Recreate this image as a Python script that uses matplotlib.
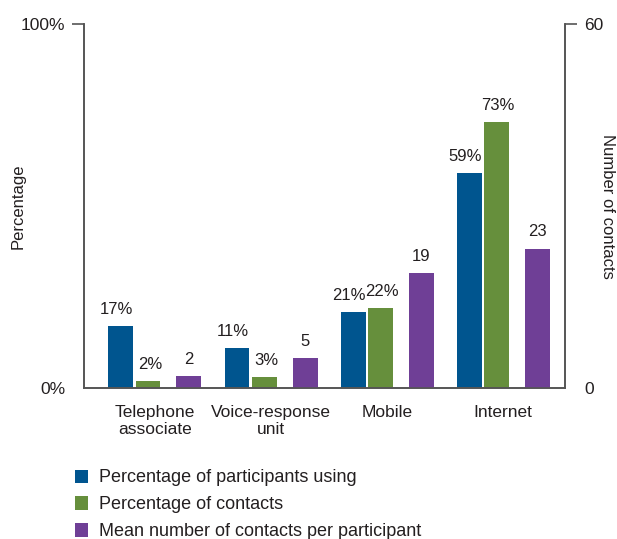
import matplotlib
matplotlib.use("Agg")
import matplotlib.pyplot as plt
import numpy as np

categories = ["Telephone\nassociate", "Voice-response\nunit", "Mobile", "Internet"]
pct_participants = [17, 11, 21, 59]
pct_contacts = [2, 3, 22, 73]
mean_contacts = [2, 5, 19, 23]
series_names = ["Percentage of participants using", "Percentage of contacts",
                "Mean number of contacts per participant"]
colors = ["#00558f", "#668f3c", "#6f3f96"]
left_ticks = [0, 100]
left_ticklabels = ["0%", "100%"]
right_ticks = [0, 60]
right_ticklabels = ["0", "60"]

plt.rcParams["font.family"] = ["Liberation Sans", "DejaVu Sans"]
txt = "#231f20"
spine_c = "#555555"

fig = plt.figure(figsize=(6.17, 5.39), dpi=100)
ax = fig.add_axes([0.136, 0.28, 0.78, 0.6755])
ax2 = ax.twinx()

x = np.arange(len(categories))
w = 0.215
b1 = ax.bar(x - 0.293, pct_participants, w, color=colors[0], label=series_names[0])
b2 = ax.bar(x - 0.06, pct_contacts, w, color=colors[1], label=series_names[1])
b3 = ax2.bar(x + 0.293, mean_contacts, w, color=colors[2], label=series_names[2])

fs = 12.5
for bars, vals, suf, a, dx in [(b1, pct_participants, "%", ax, -3.0),
                               (b2, pct_contacts, "%", ax, 1.5),
                               (b3, mean_contacts, "", ax2, 0)]:
    for r, v in zip(bars, vals):
        a.annotate(f"{v}{suf}", (r.get_x() + r.get_width() / 2, r.get_height()),
                   xytext=(dx, 6.5), textcoords="offset points", ha="center", va="bottom",
                   fontsize=12, color=txt)

ax.set_xlim(-0.612, 3.534)
ax.set_ylim(0, 100)
ax2.set_ylim(0, 60)

ax.set_xticks(x)
ax.set_xticklabels(categories, fontsize=fs, color=txt, linespacing=1.2)
ax.tick_params(axis="x", length=0, pad=12)

ax.set_yticks(left_ticks)
ax.set_yticklabels(left_ticklabels, fontsize=fs, color=txt)
ax.tick_params(axis="y", length=8.5, width=1.2, color=spine_c, pad=5)
ax.yaxis.get_major_ticks()[0].tick1line.set_visible(False)

ax2.set_yticks(right_ticks)
ax2.set_yticklabels(right_ticklabels, fontsize=fs, color=txt)
ax2.tick_params(axis="y", length=8.5, width=1.2, color=spine_c, pad=5)
ax2.yaxis.get_major_ticks()[0].tick2line.set_visible(False)

ax.set_ylabel("Percentage", fontsize=12, color=txt, va="center")
ax.yaxis.set_label_coords(-0.137, 0.5)
ax2.set_ylabel("Number of contacts", fontsize=12, color=txt, rotation=-90, va="center")
ax2.yaxis.set_label_coords(1.087, 0.5)

for a in (ax, ax2):
    a.spines["top"].set_visible(False)
    for s in ("left", "right", "bottom"):
        a.spines[s].set_color(spine_c)
        a.spines[s].set_linewidth(1.2)

fig.legend(handles=[b1, b2, b3], loc="upper left", bbox_to_anchor=(0.121, 0.129),
           frameon=False, fontsize=13, handlelength=0.75, handleheight=0.75,
           handletextpad=0.6, labelspacing=0.55, borderaxespad=0, borderpad=0,
           labelcolor=txt)

fig.savefig("out.png", dpi=100)
